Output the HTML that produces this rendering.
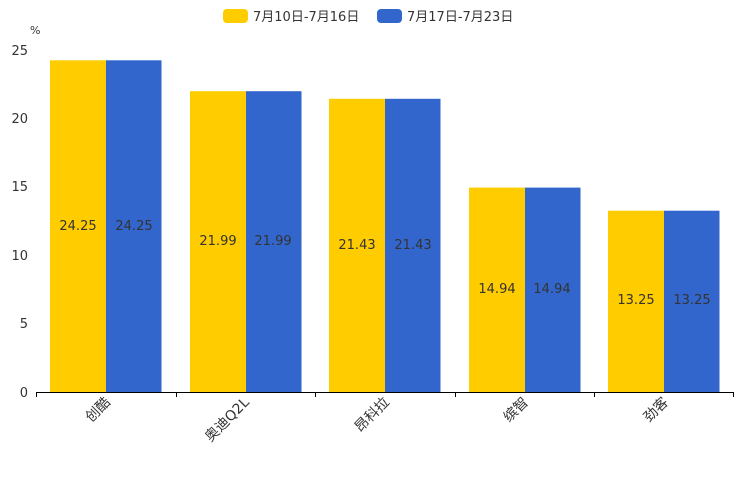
<!DOCTYPE html>
<html><head><meta charset="utf-8"><style>body{margin:0;background:#fff}svg{display:block}text{font-family:"DejaVu Sans","Noto Sans CJK SC",sans-serif}</style></head><body>
<svg width="744" height="496" xmlns="http://www.w3.org/2000/svg">
<rect x="223" y="9" width="25" height="14" rx="4" fill="#ffcc00"/>
<text x="253" y="21" font-size="13" fill="#333">7月10日-7月16日</text>
<rect x="377" y="9" width="25" height="14" rx="4" fill="#3366cc"/>
<text x="407" y="21" font-size="13" fill="#333">7月17日-7月23日</text>
<text x="30" y="34" font-size="11" fill="#333">%</text>
<g font-size="13" fill="#333" text-anchor="end">
<text x="28" y="397">0</text><text x="28" y="328">5</text><text x="28" y="260">10</text><text x="28" y="191">15</text><text x="28" y="123">20</text><text x="28" y="55">25</text>
</g>
<g font-size="13" fill="#333" text-anchor="middle">
<rect x="50" y="60.3" width="56" height="331.7" fill="#ffcc00"/><rect x="106" y="60.3" width="55.5" height="331.7" fill="#3366cc"/>
<text x="78" y="230">24.25</text><text x="134" y="230">24.25</text>
<rect x="190" y="91.2" width="56" height="300.8" fill="#ffcc00"/><rect x="246" y="91.2" width="55.5" height="300.8" fill="#3366cc"/>
<text x="218" y="245">21.99</text><text x="273" y="245">21.99</text>
<rect x="329" y="98.8" width="56" height="293.2" fill="#ffcc00"/><rect x="385" y="98.8" width="55.5" height="293.2" fill="#3366cc"/>
<text x="357" y="249">21.43</text><text x="413" y="249">21.43</text>
<rect x="469" y="187.6" width="56" height="204.4" fill="#ffcc00"/><rect x="525" y="187.6" width="55.5" height="204.4" fill="#3366cc"/>
<text x="497" y="293">14.94</text><text x="552" y="293">14.94</text>
<rect x="608" y="210.7" width="56" height="181.3" fill="#ffcc00"/><rect x="664" y="210.7" width="55.5" height="181.3" fill="#3366cc"/>
<text x="636" y="304">13.25</text><text x="692" y="304">13.25</text>
</g>
<g stroke="#000" stroke-width="1">
<line x1="36" y1="392.5" x2="734" y2="392.5"/>
<line x1="36.5" y1="392" x2="36.5" y2="397"/><line x1="176.5" y1="392" x2="176.5" y2="397"/><line x1="315.5" y1="392" x2="315.5" y2="397"/><line x1="455.5" y1="392" x2="455.5" y2="397"/><line x1="594.5" y1="392" x2="594.5" y2="397"/><line x1="733.5" y1="392" x2="733.5" y2="397"/>
</g>
<g font-size="14" fill="#333" text-anchor="end">
<text transform="translate(111,403) rotate(-45)">创酷</text>
<text transform="translate(250,403) rotate(-45)">奥迪Q2L</text>
<text transform="translate(390,403) rotate(-45)">昂科拉</text>
<text transform="translate(529,403) rotate(-45)">缤智</text>
<text transform="translate(669,403) rotate(-45)">劲客</text>
</g>
</svg>
</body></html>
